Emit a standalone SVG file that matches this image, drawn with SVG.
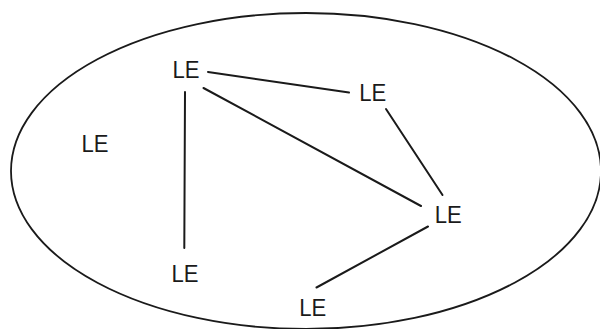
<svg xmlns="http://www.w3.org/2000/svg" width="600" height="329" viewBox="0 0 600 329">
<style>
.bg{fill:#ffffff}
.boundary{fill:none;stroke:#1a1a1a;stroke-width:1.8}
.edge{stroke:#1a1a1a;stroke-width:2;stroke-linecap:round}
.lbl{font-family:"Liberation Sans","Open Sans",Arial,sans-serif;font-size:23px;fill:#1a1a1a;text-anchor:middle}
</style>
<rect class="bg" x="0" y="0" width="600" height="329"/>
<ellipse id="boundary" class="boundary" cx="306" cy="171" rx="295" ry="158"/>
<g id="connectors">
<line class="edge" x1="208" y1="72" x2="349" y2="92.5"/>
<line class="edge" x1="203.5" y1="88" x2="421" y2="206"/>
<line class="edge" x1="185" y1="92" x2="184.3" y2="248"/>
<line class="edge" x1="386" y1="109" x2="442.5" y2="195"/>
<line class="edge" x1="428" y1="226.5" x2="316.5" y2="287.5"/>
</g>
<g id="n1"><text class="lbl" x="186" y="78" textLength="27" lengthAdjust="spacingAndGlyphs">LE</text></g>
<g id="n2"><text class="lbl" x="372.7" y="101" textLength="27" lengthAdjust="spacingAndGlyphs">LE</text></g>
<g id="n3"><text class="lbl" x="95" y="152" textLength="27" lengthAdjust="spacingAndGlyphs">LE</text></g>
<g id="n4"><text class="lbl" x="448.3" y="223" textLength="27" lengthAdjust="spacingAndGlyphs">LE</text></g>
<g id="n5"><text class="lbl" x="185" y="282" textLength="27" lengthAdjust="spacingAndGlyphs">LE</text></g>
<g id="n6"><text class="lbl" x="312.7" y="316" textLength="27" lengthAdjust="spacingAndGlyphs">LE</text></g>
</svg>
